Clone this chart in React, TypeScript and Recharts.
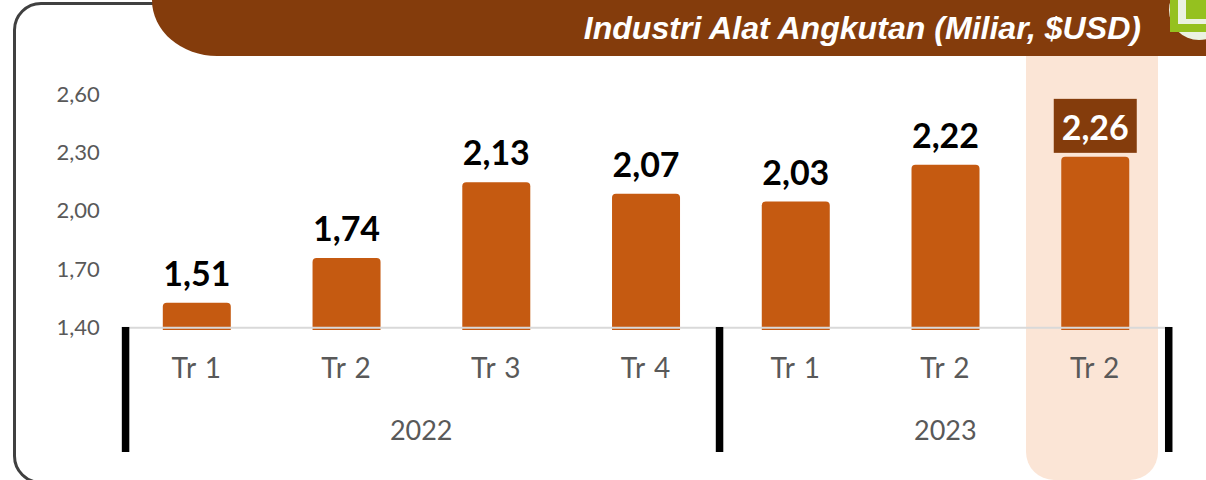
import { BarChart, Bar, XAxis, YAxis, LabelList, ReferenceLine } from "recharts";

const quarters = ["Tr 1", "Tr 2", "Tr 3", "Tr 4", "Tr 1", "Tr 2", "Tr 2"];
const values = [1.51, 1.74, 2.13, 2.07, 2.03, 2.22, 2.26];
const yTicks = [1.4, 1.7, 2.0, 2.3, 2.6];
const years = [
  { label: "2022", start: 0, count: 4 },
  { label: "2023", start: 4, count: 3 },
];

const data = quarters.map((quarter, i) => ({ quarter, value: values[i] }));

const comma = (v: number) => v.toFixed(2).replace(".", ",");
const FONT = "Lato, Carlito, sans-serif";
const STEP = 149.7;

function QuarterTick({ x, index, payload }: any) {
  const group = years.find((g) => g.start === index);
  const isLast = index === quarters.length - 1;
  // separators sit a little left of the band edge after the first group
  const sepShift = index === 0 ? 0 : -5;
  return (
    <g>
      <text
        x={x}
        y={378}
        textAnchor="middle"
        fontFamily={FONT}
        fontSize={28}
        letterSpacing={1}
        fill="#595959"
      >
        {payload.value}
      </text>
      {group && (
        <>
          <rect x={x - STEP / 2 + sepShift} y={327} width={7.5} height={125} fill="#000" />
          <text
            x={x + ((group.count - 1) * STEP) / 2}
            y={440}
            textAnchor="middle"
            fontFamily={FONT}
            fontSize={27}
            fill="#595959"
          >
            {group.label}
          </text>
        </>
      )}
      {isLast && <rect x={x + STEP / 2 - 5} y={327} width={7.5} height={125} fill="#000" />}
    </g>
  );
}

function ValueTick({ x, y, payload }: any) {
  return (
    <text x={x} y={y + 11} textAnchor="end" fontFamily={FONT} fontSize={22} fill="#595959">
      {comma(payload.value)}
    </text>
  );
}

function ValueLabel({ x, y, width, value, index }: any) {
  const cx = x + width / 2;
  const last = index === values.length - 1;
  return (
    <g>
      {last && <rect x={cx - 41.5} y={y - 58} width={83} height={54} fill="#843C0C" />}
      <text
        x={cx}
        y={y - 17}
        textAnchor="middle"
        fontFamily={FONT}
        fontWeight={700}
        fontSize={34}
        fill={last ? "#fff" : "#000"}
      >
        {comma(value)}
      </text>
    </g>
  );
}

export default function App() {
  return (
    <div style={{ position: "fixed", left: 0, top: 0, width: 1206, height: 480, overflow: "hidden", background: "#fff" }}>
      <div
        style={{
          position: "absolute",
          left: 13,
          top: 2,
          width: 1300,
          height: 482,
          boxSizing: "border-box",
          border: "3px solid #404040",
          borderRadius: 28,
        }}
      />
      <div
        style={{
          position: "absolute",
          left: 1026,
          top: 56,
          width: 132,
          height: 424,
          background: "#FBE5D6",
          borderRadius: "0 0 28px 28px",
        }}
      />
      <div
        style={{
          position: "absolute",
          left: 152,
          top: 0,
          width: 1054,
          height: 56,
          background: "#843C0C",
          borderBottomLeftRadius: "65px 56px",
        }}
      />
      <div
        style={{
          position: "absolute",
          right: 65,
          top: 10,
          color: "#fff",
          fontFamily: "'Liberation Sans', Arial, sans-serif",
          fontStyle: "italic",
          fontWeight: 700,
          fontSize: 32.1,
          lineHeight: "36px",
          whiteSpace: "nowrap",
        }}
      >
        Industri Alat Angkutan (Miliar, $USD)
      </div>
      <div
        style={{
          position: "absolute",
          left: 1169,
          top: -20,
          width: 60,
          height: 60,
          borderRadius: 30,
          background: "#EBF2E1",
        }}
      />
      <div style={{ position: "absolute", left: 1170, top: 0, width: 36, height: 32, background: "#95C11F" }} />
      <div style={{ position: "absolute", left: 1178, top: 0, width: 28, height: 24, background: "#EBF2E1" }} />
      <div style={{ position: "absolute", left: 1186, top: 0, width: 20, height: 19, background: "#95C11F" }} />

      <div style={{ position: "absolute", left: 0, top: 0 }}>
        <BarChart
          width={1206}
          height={480}
          data={data}
          barSize={68}
          margin={{ top: 90.7, right: 36, bottom: 0, left: 0 }}
          style={{ background: "transparent" }}
        >
          <XAxis
            dataKey="quarter"
            axisLine={false}
            tickLine={false}
            tick={<QuarterTick />}
            interval={0}
            height={150}
          />
          <YAxis
            type="number"
            domain={[1.37, 2.6]}
            ticks={yTicks}
            axisLine={false}
            tickLine={false}
            tick={<ValueTick />}
            width={121.8}
            tickMargin={16}
            allowDataOverflow
          />
          <Bar dataKey="value" fill="#C55A11" radius={[4, 4, 0, 0]} isAnimationActive={false}>
            <LabelList dataKey="value" content={<ValueLabel />} />
          </Bar>
          <ReferenceLine y={1.382} stroke="#D9D9D9" strokeWidth={2} />
        </BarChart>
      </div>
    </div>
  );
}
